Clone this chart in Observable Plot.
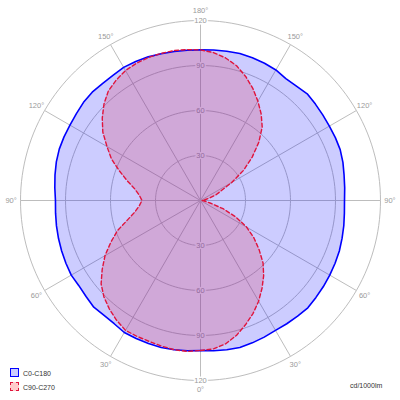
<!DOCTYPE html>
<html><head><meta charset="utf-8">
<script src="https://cdn.jsdelivr.net/npm/d3@7"></script>
<script src="https://cdn.jsdelivr.net/npm/@observablehq/plot@0.6"></script>
<style>
body{margin:0;background:#fff;}
#wrap{position:relative;width:400px;height:400px;font-family:"Liberation Sans",Arial,sans-serif;}
#wrap svg{display:block;}
.lg{position:absolute;font-size:7px;color:#333;line-height:9px;white-space:nowrap;}
.sw{position:absolute;width:7px;height:7px;}
</style></head><body><div id="wrap"></div>
<script>
// gamma angles (degrees, 0 = down, 180 = up)
const gamma = [0,5,10,15,20,25,30,35,40,45,50,55,60,65,70,75,80,85,90,95,100,105,110,115,120,125,130,135,140,145,150,155,160,165,170,175,180];
// C0 (right half, blue)
const c0 = [100,100.5,101,101.4,101,100.5,100,100.3,100.7,101.2,100.5,100,99.5,99,98.5,97.7,97,96.3,96,96.5,97.2,98.3,99.1,99.2,99.2,99.5,100,100.6,99.5,99.2,100.5,101,101.2,101.4,101,100.7,100.4];
// C180 (left half, blue)
const c180 = [100,100.5,101,101.4,101.5,101.5,101.6,100.3,100,100.6,99.6,99,99.5,99,98.5,98,97.5,97,96.7,97.5,98.5,99.5,100.2,100.4,100.5,101,101.8,102.1,101.7,101.8,102.5,102.2,101.9,101.3,100.9,100.5,100.4];
// C90 (right half, red)
const c90 = [100,99.3,97,93,88,83,77.5,71.5,65.5,59,51,43.5,35.5,26,16,7,3,1.5,1,1,3,6,11,15,24,35,45,55,64,70.5,76.5,82.5,88,93,96.5,99,100.4];
// C270 (left half, red)
const c270 = [100,101,101,100.5,100,100,100,97.5,94.5,91,86.5,80,73.5,66,59,50.5,44.5,41,39,41,44.5,50.5,57.5,65.5,72,79.5,85.5,91,95.5,98,100,101,101.5,101.5,101.5,101,100.4];

const ringValues = [30,60,90,120];
const ringLabels = ["30","60","90","120"];
const spokeAngles = [0,30,60,90,120,150];
const angleTicks = [0,30,60,90,120,150,180];
const angleTickLabels = ["0°","30°","60°","90°","120°","150°","180°"];
const seriesNames = ["C0-C180","C90-C270"];
const unitLabel = "cd/1000lm";
const rMax = 120;

const rad = Math.PI/180;
const px = d => d.s * d.r * Math.sin(d.g*rad);
const py = d => -d.r * Math.cos(d.g*rad);

function closedCurve(right, left){
  const a = gamma.map((g,i)=>({g, r:right[i], s:1}));
  const b = gamma.map((g,i)=>({g, r:left[i], s:-1})).reverse();
  return a.concat(b);
}
const blue = closedCurve(c0, c180);
const red = closedCurve(c90, c270);

// grid circles
const circlePts = [];
for (const r of ringValues) for (let t=0; t<360; t+=2) circlePts.push({ring:r, g:t, r, s:1});
// spokes
const spokes = spokeAngles.map(a => ({
  x1: rMax*Math.sin(a*rad), y1: -rMax*Math.cos(a*rad),
  x2: -rMax*Math.sin(a*rad), y2: rMax*Math.cos(a*rad)
}));
// ring labels (top and bottom of vertical axis)
const ringLab = [];
ringValues.forEach((v,i)=>{ ringLab.push({y:v, t:ringLabels[i]}); ringLab.push({y:-v, t:ringLabels[i]}); });
// angle labels
const angLab = [];
angleTicks.forEach((g,i)=>{
  if (g===0 || g===180) angLab.push({g, s:1, r:126.3, t:angleTickLabels[i]});
  else { angLab.push({g, s:1, r:126.3, t:angleTickLabels[i]}); angLab.push({g, s:-1, r:126.3, t:angleTickLabels[i]}); }
});

const lim = 400/3;
const chart = Plot.plot({
  width:400, height:400, margin:0,
  x:{domain:[-lim, lim], axis:null},
  y:{domain:[-lim, lim], axis:null},
  style:{fontFamily:'"Liberation Sans",Arial,sans-serif', background:"#fff"},
  marks:[
    Plot.line(circlePts, {x:px, y:py, z:"ring", curve:"linear-closed", stroke:"#bdbdbd", strokeWidth:1}),
    Plot.link(spokes, {x1:"x1", y1:"y1", x2:"x2", y2:"y2", stroke:"#bdbdbd", strokeWidth:1}),
    Plot.text(ringLab, {x:0, y:"y", text:"t", fill:"#9a9a9a", stroke:"white", strokeWidth:3, fontSize:7.5}),
    Plot.line(blue, {x:px, y:py, curve:"linear-closed", fill:"#0000ff", fillOpacity:0.2, stroke:"none"}),
    Plot.line(red, {x:px, y:py, curve:"linear-closed", fill:"rgb(220,60,99)", fillOpacity:0.25, stroke:"none"}),
    Plot.line(blue, {x:px, y:py, curve:"linear-closed", stroke:"#0000ff", strokeWidth:1.6}),
    Plot.line(red, {x:px, y:py, curve:"linear-closed", stroke:"#e0143c", strokeWidth:1.4, strokeDasharray:"4,2.5"}),
    Plot.text(angLab, {x:px, y:py, text:"t", fill:"#9a9a9a", fontSize:7.5})
  ]
});
const wrap = document.getElementById("wrap");
wrap.appendChild(chart);

function addSwatch(top, fill, border){
  const s = document.createElement("div");
  s.className = "sw";
  s.style.left = "10px"; s.style.top = top + "px";
  s.style.background = fill; s.style.border = border;
  wrap.appendChild(s);
}
function addLabel(left, top, text){
  const l = document.createElement("div");
  l.className = "lg"; l.style.left = left + "px"; l.style.top = top + "px";
  l.textContent = text; wrap.appendChild(l);
}
addSwatch(368, "#ccccff", "1.5px solid #0000ff");
addSwatch(382, "#ffcccc", "1.5px dashed #e0143c");
addLabel(23, 368.5, seriesNames[0]);
addLabel(23, 382.5, seriesNames[1]);
addLabel(350, 381, unitLabel);
</script></body></html>
